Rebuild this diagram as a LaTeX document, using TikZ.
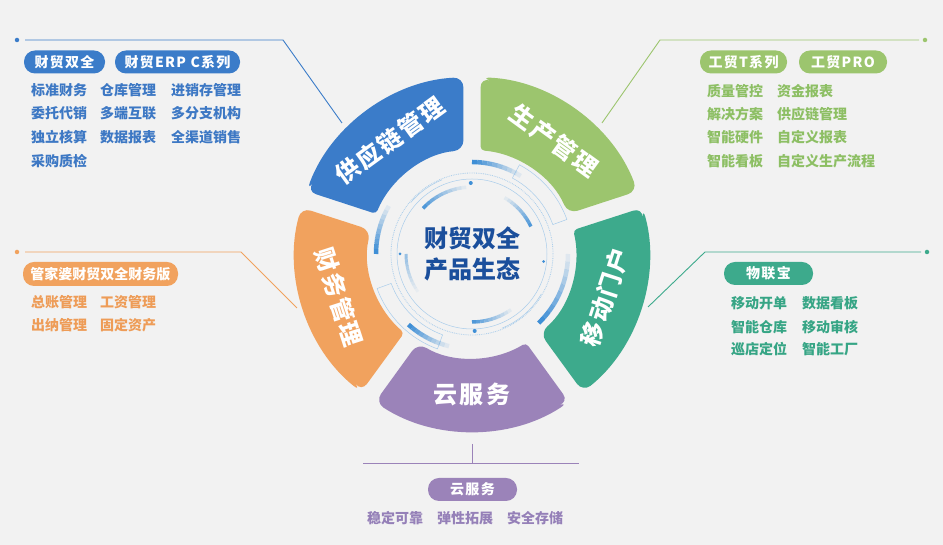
\documentclass[tikz,border=0pt]{standalone}
\usepackage{fontspec}
\setmainfont{Noto Sans CJK SC}
\newfontfamily\spacedfont{Noto Sans CJK SC}[LetterSpace=9]
\usetikzlibrary{calc}

\definecolor{bgc}{HTML}{F2F2F2}
\definecolor{segblue}{HTML}{3B7CC9}
\definecolor{seggreen}{HTML}{9CC56E}
\definecolor{segteal}{HTML}{3DAA8C}
\definecolor{segorange}{HTML}{F1A25E}
\definecolor{segpurple}{HTML}{9B83B9}
\definecolor{txtblue}{HTML}{3D78C4}
\definecolor{txtgreen}{HTML}{8DBF64}
\definecolor{txtteal}{HTML}{36A585}
\definecolor{txtorange}{HTML}{EE9C57}
\definecolor{txtpurple}{HTML}{9580B8}
\definecolor{ringblue}{HTML}{3F8FD6}
\definecolor{ringthin}{HTML}{A9CDEB}
\definecolor{centerblue}{HTML}{1B4F9C}

\tikzset{
  pill/.style={fill=#1, rounded corners=11pt, minimum height=23pt, inner sep=0pt,
    text=white, font=\spacedfont\fontsize{14}{14}\selectfont\bfseries},
  item/.style={text=#1, anchor=west, inner sep=0pt, font=\fontsize{14}{14}\selectfont\bfseries},
  seglabel/.style={text=white, inner sep=0pt, font=\spacedfont\fontsize{24}{24}\selectfont\bfseries},
  enddot/.style={fill=#1, circle, inner sep=0pt, minimum size=4.5pt},
  leader/.style={draw=#1, line width=0.9pt},
}

\begin{document}
\begin{tikzpicture}[x=1pt, y=1pt]
  \useasboundingbox (0,0) rectangle (943,545);
  \fill[bgc] (0,0) rectangle (943,545);

  \coordinate (ctr) at (472,291);

  % five ring segments
  \begin{scope}[shift={(ctr)}]
    \foreach \c/\rot/\col/\name/\txt in {126/36/segblue/scm/供应链管理, 54/-36/seggreen/prod/生产管理,
        -18/72/segteal/mob/移动门户, 270/0/segpurple/cloud/云服务, 198/-72/segorange/fin/财务管理} {
      \fill[\col, rotate=\c] (0:177) [rounded corners=10pt] -- (33.2:177)
        arc[start angle=33.2, end angle=-33.2, radius=177] -- (-31.3:104) [rounded corners=4pt]
        arc[start angle=-31.3, end angle=31.3, radius=104] [rounded corners=10pt] -- (33.2:177) [sharp corners] -- (0:177);
      \node[seglabel, rotate=\rot] (\name) at (\c:140) {\txt};
    }

    % centre rings
    \draw[ringthin, densely dotted, line width=0.8pt] (0,0) circle[radius=81];
    \draw[ringthin, line width=0.5pt] (0,0) circle[radius=75];
    \draw[ringthin, line width=0.5pt] (20:86) arc[start angle=20, end angle=62, radius=86] -- (62:101) arc[start angle=62, end angle=20, radius=101] -- cycle;
    \draw[ringthin, line width=0.5pt] (200:86) arc[start angle=200, end angle=250, radius=86] -- (250:101) arc[start angle=250, end angle=200, radius=101] -- cycle;
    \draw[ringthin, line width=0.5pt] (112:80) arc[start angle=112, end angle=140, radius=80];
    \draw[ringthin, line width=0.5pt] (292:80) arc[start angle=292, end angle=330, radius=80];
    \foreach \r/\a/\b/\w/\o in {92/90/58/4.5/1, 96/180/150/4.5/1, 95/228/256/4.5/1, 96/314/360/4.5/1,
        67/137/95/3.5/.9, 65/25/60/3.5/.9, 68/270/305/3.5/.9, 66/180/215/3/.5} {
      \foreach \k in {0,...,9} {
        \pgfmathsetmacro\op{\o*(1-\k/10)}
        \draw[ringblue, line width=\w pt, opacity=\op] ({\a+(\b-\a)*\k/10}:\r)
          arc[start angle={\a+(\b-\a)*\k/10}, delta angle={(\b-\a)/10}, radius=\r];
      }
    }
    \fill[ringblue] (91:71) circle[radius=2];
    \fill[ringblue] (272:77) circle[radius=2];
    \fill[ringblue] (180:72) circle[radius=1.5];
    \fill[ringblue] (354:72) circle[radius=1.5];
  \end{scope}

  \node[text=centerblue, align=center, inner sep=0pt, font=\fontsize{24}{31}\selectfont\bfseries] (eco) at (ctr) {财贸双全\\产品生态};

  % supply chain (blue)
  \node[enddot=segblue] (bdot) at (17,505) {};
  \coordinate (bbend) at (283,505);
  \coordinate (bend) at (342,422);
  \draw[leader=segblue] (bdot) ++(8,0) -- (bbend) -- (bend);
  \node[pill=segblue, minimum width=81pt] (bpill1) at (64.5,483) {财贸双全};
  \node[pill=segblue, minimum width=125pt] (bpill2) at (177.5,483) {财贸ERP C系列};
  \node[item=txtblue] (b11) at (31,455) {标准财务};
  \node[item=txtblue] (b12) at (100,455) {仓库管理};
  \node[item=txtblue] (b13) at (171,455) {进销存管理};
  \node[item=txtblue] (b21) at (31,432) {委托代销};
  \node[item=txtblue] (b22) at (100,432) {多端互联};
  \node[item=txtblue] (b23) at (171,432) {多分支机构};
  \node[item=txtblue] (b31) at (31,408) {独立核算};
  \node[item=txtblue] (b32) at (100,408) {数据报表};
  \node[item=txtblue] (b33) at (171,408) {全渠道销售};
  \node[item=txtblue] (b41) at (31,384) {采购质检};

  % production (green)
  \node[enddot=seggreen] (gdot) at (925,505) {};
  \coordinate (gbend) at (660,505);
  \coordinate (gend) at (602,422);
  \draw[leader=seggreen] (gdot) ++(-6,0) -- (gbend) -- (gend);
  \node[pill=seggreen, minimum width=87pt] (gpill1) at (743.5,483) {工贸T系列};
  \node[pill=seggreen, minimum width=88pt] (gpill2) at (843,483) {工贸PRO};
  \node[item=txtgreen] (g11) at (707,454) {质量管控};
  \node[item=txtgreen] (g12) at (777,454) {资金报表};
  \node[item=txtgreen] (g21) at (707,431) {解决方案};
  \node[item=txtgreen] (g22) at (777,431) {供应链管理};
  \node[item=txtgreen] (g31) at (707,408) {智能硬件};
  \node[item=txtgreen] (g32) at (777,408) {自定义报表};
  \node[item=txtgreen] (g41) at (707,384) {智能看板};
  \node[item=txtgreen] (g42) at (777,384) {自定义生产流程};

  % finance (orange)
  \node[enddot=segorange] (odot) at (17,293) {};
  \coordinate (obend) at (241,293);
  \coordinate (oend) at (297,237);
  \draw[leader=segorange] (odot) ++(8,0) -- (obend) -- (oend);
  \node[pill=segorange, minimum width=155pt, minimum height=24pt, font=\fontsize{14}{14}\selectfont\bfseries] (opill) at (100.5,271) {管家婆财贸双全财务版};
  \node[item=txtorange] (o11) at (31,243) {总账管理};
  \node[item=txtorange] (o12) at (100,243) {工资管理};
  \node[item=txtorange] (o21) at (31,220) {出纳管理};
  \node[item=txtorange] (o22) at (100,220) {固定资产};

  % mobile (teal)
  \node[enddot=segteal] (tdot) at (927,293) {};
  \coordinate (tbend) at (705,293);
  \coordinate (tend) at (648,238);
  \draw[leader=segteal] (tdot) ++(-6,0) -- (tbend) -- (tend);
  \node[pill=segteal, minimum width=89pt] (tpill) at (768.5,271.5) {物联宝};
  \node[item=txtteal] (t11) at (731,242) {移动开单};
  \node[item=txtteal] (t12) at (802,242) {数据看板};
  \node[item=txtteal] (t21) at (731,218) {智能仓库};
  \node[item=txtteal] (t22) at (802,218) {移动审核};
  \node[item=txtteal] (t31) at (731,196) {巡店定位};
  \node[item=txtteal] (t32) at (802,196) {智能工厂};

  % cloud (purple)
  \coordinate (ptop) at (472,101);
  \coordinate (pmid) at (472,82);
  \coordinate (pleft) at (363,82);
  \coordinate (pright) at (579,82);
  \draw[leader=segpurple] (ptop) -- (pmid);
  \draw[leader=segpurple] (pleft) -- (pright);
  \node[pill=segpurple, minimum width=89pt] (ppill) at (472.5,55.5) {云服务};
  \node[item=txtpurple] (p1) at (367,27) {稳定可靠};
  \node[item=txtpurple] (p2) at (437,27) {弹性拓展};
  \node[item=txtpurple] (p3) at (507,27) {安全存储};
\end{tikzpicture}
\end{document}
